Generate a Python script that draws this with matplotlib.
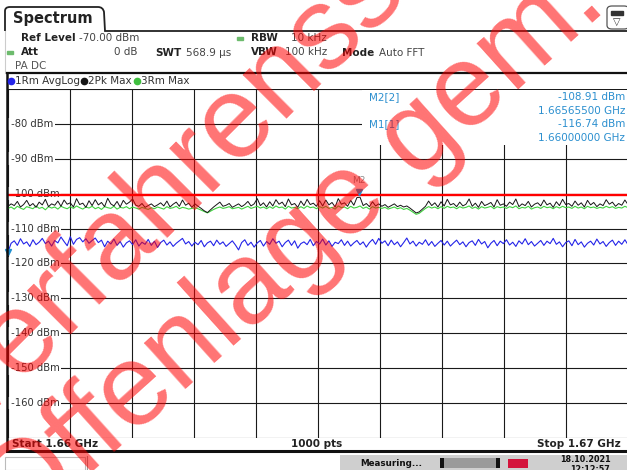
import numpy as np
import matplotlib
matplotlib.use('Agg')
import matplotlib.pyplot as plt
from matplotlib.patches import Rectangle, FancyBboxPatch
from matplotlib.path import Path
from matplotlib.patches import PathPatch
from matplotlib.lines import Line2D
import matplotlib.transforms as mtransforms

W, H = 627, 470

# Messbereich
f_start = 1.66e9
f_stop = 1.67e9
ref_level = -70.0
y_bottom = -170.0
display_line = -100.5
ylabels = [-80, -90, -100, -110, -120, -130, -140, -150, -160]

# Marker
m1_freq, m1_level = 1.66e9, -116.74
m2_freq, m2_level = 1.665655e9, -108.91

# Trace 1: Rm AvgLog (blau)
trace_avg = [
    -116.7, -114.2, -113.5, -114.8, -112.9, -114.4, -113.8, -115.1, -113.2, -114.6, -113.9, -112.8, -114.3, -113.6, -115.0, -113.4, -114.1, -112.4, -113.7, -114.9,
    -112.3, -114.5, -113.1, -112.6, -113.8, -112.9, -114.2, -113.4, -112.7, -114.0, -113.3, -115.2, -113.6, -114.4, -113.0, -114.8, -113.7, -115.3, -114.1, -113.5,
    -114.6, -113.2, -115.0, -113.9, -114.5, -113.1, -114.8, -113.6, -115.4, -114.0, -113.3, -114.7, -113.8, -115.1, -114.2, -113.5, -112.8, -114.4, -113.7, -115.0,
    -113.9, -114.6, -113.4, -115.2, -114.1, -113.6, -114.9, -113.3, -114.5, -113.8, -115.1, -114.3, -113.5, -114.7, -116.1, -114.0, -113.2, -114.8, -113.9, -115.3,
    -114.1, -113.4, -115.0, -113.7, -114.5, -112.9, -114.2, -113.6, -115.2, -114.0, -113.3, -114.8, -113.5, -115.6, -114.3, -113.8, -114.6, -113.1, -114.9, -113.7,
    -114.4, -113.0, -114.7, -113.5, -115.1, -113.9, -114.3, -113.2, -114.8, -113.6, -115.0, -114.1, -113.4, -114.6, -113.8, -115.3, -114.0, -113.1, -114.5, -112.8,
    -114.2, -113.5, -114.9, -113.3, -114.6, -113.8, -115.2, -114.0, -112.7, -114.4, -113.6, -115.0, -113.9, -114.5, -113.2, -114.8, -113.7, -115.1, -114.2, -113.4,
    -114.7, -113.6, -115.0, -114.1, -113.3, -114.6, -113.8, -115.2, -114.0, -113.5, -114.8, -113.1, -114.4, -113.7, -115.5, -114.2, -113.4, -114.9, -113.6, -114.3,
    -113.2, -114.7, -113.9, -115.1, -113.5, -114.4, -112.9, -114.6, -113.7, -115.0, -114.2, -113.4, -114.8, -113.6, -114.3, -112.8, -114.5, -113.8, -115.2, -114.0,
    -113.5, -114.9, -113.1, -114.6, -113.8, -115.3, -114.2, -113.6, -114.7, -113.0, -114.4, -113.7, -115.1, -114.0, -113.3, -114.8, -113.6, -114.5, -113.2, -114.6,
]

# Trace 2: Pk Max (schwarz)
trace_pk = [
    -103.6, -102.9, -103.4, -102.2, -103.8, -103.1, -101.9, -103.5, -102.8, -103.9, -102.4, -103.2, -101.6, -103.7, -102.9, -103.3, -102.1, -103.6, -101.8, -103.0,
    -102.6, -103.8, -101.4, -103.1, -102.7, -103.9, -102.0, -103.4, -101.7, -103.2, -102.5, -103.7, -101.3, -102.9, -103.5, -102.2, -103.8, -101.9, -103.0, -102.4,
    -101.5, -103.3, -103.6, -102.8, -103.9, -103.4, -102.9, -103.7, -103.2, -102.6, -103.5, -102.1, -103.8, -103.0, -102.4, -103.6, -101.8, -103.3, -102.7, -103.9,
    -102.9, -103.6, -104.2, -104.9, -105.4, -104.6, -103.8, -103.1, -102.4, -103.6, -103.3, -102.8, -103.9, -103.4, -102.9, -103.7, -103.1, -102.2, -103.5, -102.9,
    -101.4, -103.4, -102.6, -103.8, -102.3, -103.5, -101.7, -103.0, -102.4, -103.7, -101.5, -103.2, -102.8, -103.9, -102.1, -103.4, -101.6, -103.1, -102.7, -103.6,
    -102.0, -103.5, -101.8, -103.2, -102.5, -103.8, -101.4, -103.0, -102.6, -103.6, -101.9, -103.3, -101.1, -101.0, -103.4, -102.8, -103.7, -102.3, -103.5, -102.9,
    -103.6, -103.1, -103.9, -103.4, -102.9, -103.7, -103.3, -103.8, -103.5, -104.1, -104.8, -105.5, -105.2, -104.4, -103.6, -102.1, -103.4, -102.6, -103.8, -102.3,
    -103.5, -101.6, -103.2, -102.8, -103.7, -102.4, -103.5, -103.0, -101.5, -103.6, -102.7, -103.9, -102.2, -103.4, -103.0, -102.5, -103.8, -101.7, -103.3, -102.9,
    -103.6, -102.4, -103.1, -101.5, -103.7, -102.9, -103.4, -102.2, -103.8, -103.0, -102.6, -103.5, -101.8, -103.2, -102.7, -103.9, -102.3, -103.4, -101.6, -103.1,
    -102.8, -103.6, -102.1, -103.3, -102.6, -103.8, -101.9, -103.2, -102.5, -103.7, -102.9, -103.4, -101.7, -103.0, -102.4, -103.6, -102.8, -103.3, -101.8, -103.1,
]

# Trace 3: Rm Max (gruen)
trace_rm = [
    -104.2, -103.8, -104.4, -103.6, -104.1, -104.5, -103.7, -104.0, -104.3, -103.5, -104.2, -103.9, -104.6, -103.7, -104.1, -103.8, -104.4, -103.6, -104.0, -104.3,
    -103.7, -104.2, -103.5, -104.0, -104.4, -103.8, -104.1, -103.6, -104.3, -103.9, -104.5, -103.7, -104.0, -104.2, -103.6, -104.4, -103.9, -104.1, -103.7, -104.3,
    -103.8, -104.1, -104.4, -103.9, -104.2, -104.5, -104.0, -104.3, -103.8, -104.1, -104.4, -103.7, -104.2, -104.0, -103.6, -104.3, -103.9, -104.1, -104.4, -104.2,
    -104.0, -104.3, -104.7, -105.1, -105.5, -105.0, -104.5, -104.1, -103.8, -104.2, -104.0, -103.7, -104.3, -104.1, -103.9, -104.4, -104.0, -103.6, -104.2, -103.9,
    -103.6, -104.1, -103.8, -104.3, -103.7, -104.2, -103.5, -104.0, -103.8, -104.4, -103.6, -104.1, -103.9, -104.3, -103.7, -104.2, -103.5, -104.0, -103.8, -104.3,
    -103.7, -104.1, -103.6, -104.2, -103.9, -104.4, -103.5, -104.0, -103.8, -104.3, -103.6, -104.1, -103.9, -103.5, -104.2, -103.8, -104.4, -103.7, -104.1, -103.9,
    -104.2, -103.9, -104.4, -104.1, -103.8, -104.3, -104.0, -104.5, -104.2, -104.7, -105.3, -105.9, -105.6, -104.9, -104.2, -103.7, -104.1, -103.8, -104.3, -103.7,
    -104.2, -103.6, -104.0, -103.8, -104.3, -103.7, -104.1, -103.9, -103.5, -104.2, -103.8, -104.4, -103.7, -104.1, -103.9, -103.6, -104.3, -103.7, -104.0, -103.8,
    -104.2, -103.7, -104.0, -103.5, -104.3, -103.9, -104.1, -103.6, -104.4, -104.0, -103.8, -104.2, -103.6, -104.0, -103.8, -104.3, -103.7, -104.1, -103.6, -104.0,
    -103.8, -104.2, -103.6, -104.1, -103.8, -104.3, -103.6, -104.0, -103.8, -104.2, -103.9, -104.1, -103.6, -104.0, -103.7, -104.2, -103.9, -104.1, -103.6, -104.0,
]

fig = plt.figure(figsize=(W / 100, H / 100), dpi=100)
fig.patch.set_facecolor('white')


def fx(x):
    return x / W


def fy(y):
    return 1 - y / H


def fline(x0, y0, x1, y1, **kw):
    fig.add_artist(Line2D([fx(x0), fx(x1)], [fy(y0), fy(y1)], transform=fig.transFigure, **kw))


def ftext(x, y, s, **kw):
    kw.setdefault('family', 'DejaVu Sans')
    fig.text(fx(x), fy(y), s, **kw)


# Diagramm
ax = fig.add_axes([fx(8), fy(437.9), (628 - 8) / W, (437.9 - 89.1) / H])
ax.set_xlim(f_start, f_stop)
ax.set_ylim(y_bottom, ref_level)
ax.set_xticks(np.linspace(f_start, f_stop, 11))
ax.set_yticks(np.arange(y_bottom, ref_level + 1, 10))
ax.tick_params(length=0, labelleft=False, labelbottom=False)
ax.grid(True, color='#1a1a1a', lw=0.8)
for sp in ax.spines.values():
    sp.set_visible(False)

freq = np.linspace(f_start, f_stop, len(trace_avg))
ax.plot(freq, trace_rm, color='#3fd43f', lw=0.8, zorder=3)
ax.plot(freq, trace_pk, color='#151515', lw=0.7, zorder=4)
ax.plot(freq, trace_avg, color='#2424e8', lw=0.8, zorder=3)
ax.axhline(display_line, color='#ff0000', lw=1.7, zorder=5)

# Marker M2 auf Trace 2, M1 am Rand
m2_y = np.interp(m2_freq, freq, trace_pk)
ax.plot([m2_freq], [m2_y], marker='v', ms=4, color='#1f8fd0', zorder=6,
        transform=ax.transData + mtransforms.ScaledTranslation(0, 4 / 72, fig.dpi_scale_trans))
ax.annotate('M2', (m2_freq, m2_y), xytext=(0, 9), textcoords='offset points',
            ha='center', va='bottom', fontsize=6.5, color='#8a8a8a', zorder=6)
ax.plot([m1_freq], [m1_level], marker='v', ms=4, color='#1f8fd0', zorder=6, clip_on=False)

ylab_tr = mtransforms.blended_transform_factory(ax.transAxes, ax.transData)
for v in ylabels:
    ax.text(0.0, v, f' {v} dBm', transform=ylab_tr, ha='left', va='center',
            fontsize=7.2, color='#333333', zorder=2,
            bbox=dict(facecolor='white', edgecolor='none', pad=1.0))

# Markertabelle
fig.add_artist(Rectangle((fx(362), fy(145)), fx(628) - fx(362), fy(90) - fy(145),
                         transform=fig.transFigure, facecolor='white', edgecolor='none', zorder=1))
mk_col = '#2b8fcf'
ftext(369, 97, 'M2[2]', fontsize=7.5, color=mk_col, va='center', zorder=2)
ftext(625, 97, f'{m2_level:.2f} dBm', fontsize=7.5, color=mk_col, va='center', ha='right', zorder=2)
ftext(625, 111, f'{m2_freq / 1e9:.8f} GHz', fontsize=7.5, color=mk_col, va='center', ha='right', zorder=2)
ftext(369, 124, 'M1[1]', fontsize=7.5, color=mk_col, va='center', zorder=2)
ftext(625, 124, f'{m1_level:.2f} dBm', fontsize=7.5, color=mk_col, va='center', ha='right', zorder=2)
ftext(625, 138, f'{m1_freq / 1e9:.8f} GHz', fontsize=7.5, color=mk_col, va='center', ha='right', zorder=2)

# Rahmen
tab = Path([(fx(5), fy(31)), (fx(5), fy(11)), (fx(5), fy(7)), (fx(10), fy(7)),
            (fx(98), fy(7)), (fx(103), fy(7)), (fx(104), fy(12)), (fx(105), fy(31)),
            (fx(627), fy(31))],
           [Path.MOVETO, Path.LINETO, Path.CURVE3, Path.CURVE3, Path.LINETO,
            Path.CURVE3, Path.CURVE3, Path.LINETO, Path.LINETO])
fig.add_artist(PathPatch(tab, transform=fig.transFigure, fill=False, edgecolor='#222222', lw=1.3))
fline(5, 31, 5, 73, color='#cccccc', lw=0.8)
fline(7, 73, 627, 73, color='#111111', lw=1.6)
fline(7, 73, 7, 451, color='#111111', lw=1.8)
fline(7, 451, 627, 451, color='#111111', lw=2.2)

# Kopfzeile
ftext(13, 19, 'Spectrum', fontsize=10.5, fontweight='bold', color='#222222', va='center')
ftext(21, 38, 'Ref Level', fontsize=7.5, fontweight='bold', color='#222222', va='center')
ftext(79, 38, f'{ref_level:.2f} dBm', fontsize=7.5, color='#444444', va='center')
ftext(21, 52, 'Att', fontsize=7.5, fontweight='bold', color='#222222', va='center')
ftext(137, 52, '0 dB', fontsize=7.5, color='#444444', va='center', ha='right')
ftext(155, 53, 'SWT', fontsize=7.5, fontweight='bold', color='#222222', va='center')
ftext(186, 53, '568.9 µs', fontsize=7.5, color='#444444', va='center')
ftext(251, 38, 'RBW', fontsize=7.5, fontweight='bold', color='#222222', va='center')
ftext(291, 38, '10 kHz', fontsize=7.5, color='#444444', va='center')
ftext(251, 52, 'VBW', fontsize=7.5, fontweight='bold', color='#222222', va='center')
ftext(285, 52, '100 kHz', fontsize=7.5, color='#444444', va='center')
ftext(342, 53, 'Mode', fontsize=7.5, fontweight='bold', color='#222222', va='center')
ftext(379, 53, 'Auto FFT', fontsize=7.5, color='#444444', va='center')
ftext(15, 66, 'PA DC', fontsize=7.5, color='#555555', va='center')
for gx, gy in [(7, 52), (237, 38)]:
    fig.add_artist(Rectangle((fx(gx), fy(gy + 1.5)), fx(6), fy(0) - fy(3),
                             transform=fig.transFigure, color='#6dbb6d'))

# Symbol oben rechts
fig.add_artist(FancyBboxPatch((fx(607), fy(29)), fx(22), fy(0) - fy(23),
                              boxstyle='round,pad=0,rounding_size=0.008',
                              transform=fig.transFigure, facecolor='white', edgecolor='#555555', lw=0.9))
fig.add_artist(Rectangle((fx(611), fy(15)), fx(12), fy(0) - fy(4),
                         transform=fig.transFigure, color='#333333'))
ftext(617, 22, '▽', fontsize=7, color='#333333', ha='center', va='center')

# Legende
leg = [('#2424e8', '1Rm AvgLog', 11), ('#151515', '2Pk Max', 84), ('#3fbf3f', '3Rm Max', 137)]
for col, lab, x0 in leg:
    fig.add_artist(Line2D([fx(x0)], [fy(81)], marker='o', ms=4.5, color=col, transform=fig.transFigure))
    ftext(x0 + 4, 81, lab, fontsize=7.5, color='#333333', va='center')

# Fusszeile des Diagramms
ftext(12, 444, f'Start {f_start / 1e9:.2f} GHz', fontsize=7.5, fontweight='bold', color='#222222', va='center')
ftext(317, 444, f'{len(trace_avg) * 5} pts', fontsize=7.5, fontweight='bold', color='#222222', va='center', ha='center')
ftext(621, 444, f'Stop {f_stop / 1e9:.2f} GHz', fontsize=7.5, fontweight='bold', color='#222222', va='center', ha='right')

# Statusleiste
fig.add_artist(Rectangle((fx(5), fy(470)), fx(80), fy(0) - fy(13), transform=fig.transFigure,
                         facecolor='white', edgecolor='#bbbbbb', lw=0.8))
fline(87, 456, 87, 470, color='#999999', lw=0.8)
fig.add_artist(Rectangle((fx(340), fy(470)), fx(287), fy(0) - fy(15), transform=fig.transFigure,
                         facecolor='#cfcfcf', edgecolor='none'))
ftext(360, 463, 'Measuring...', fontsize=6.3, fontweight='bold', color='#111111', va='center')
fig.add_artist(Rectangle((fx(440), fy(468)), fx(60), fy(0) - fy(10), transform=fig.transFigure,
                         facecolor='#9a9a9a', edgecolor='none'))
for bx in (440, 496):
    fig.add_artist(Rectangle((fx(bx), fy(468)), fx(4), fy(0) - fy(10), transform=fig.transFigure,
                             facecolor='#111111', edgecolor='none'))
fig.add_artist(Rectangle((fx(508), fy(468)), fx(20), fy(0) - fy(9), transform=fig.transFigure,
                         facecolor='#d4143c', edgecolor='none'))
ftext(585, 459, '18.10.2021', fontsize=5.8, fontweight='bold', color='#111111', va='center', ha='center')
ftext(590, 469, '12:12:57', fontsize=5.8, fontweight='bold', color='#111111', va='center', ha='center')

# Wasserzeichen
wm = dict(rotation_mode='anchor', ha='left', va='baseline', fontsize=84,
          family='Liberation Sans', color='#ff0000', alpha=0.55, zorder=20)
ftext(-30, 435, 'Verfahrensstand:', rotation=45, **wm)
ftext(18, 540, 'Offenlage gem. § 3 (2) BauGB', rotation=42, **wm)

fig.savefig('out.png', dpi=100)
